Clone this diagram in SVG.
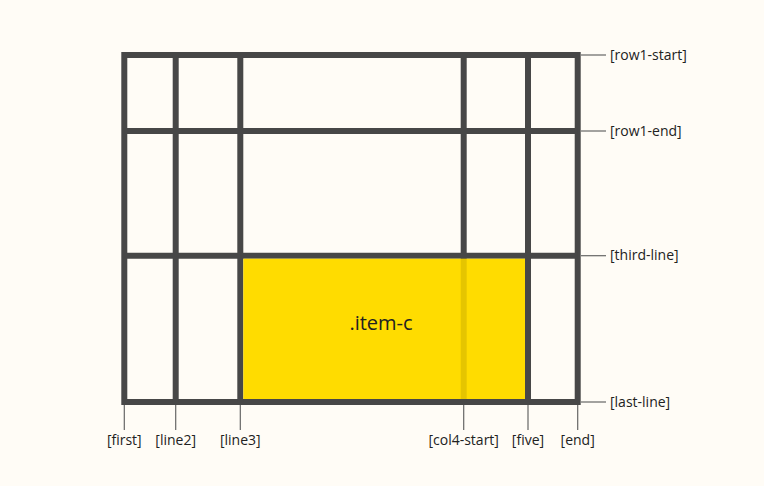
<svg xmlns="http://www.w3.org/2000/svg" width="764" height="486" viewBox="0 0 764 486">
<style>
.grid{stroke:#474747;stroke-width:6;fill:none}
.tick{stroke:#666;stroke-width:1.2}
.lbl{font-family:"Open Sans","Noto Sans",sans-serif;font-size:14px;fill:#222}
.rlbl{dominant-baseline:central}
.blbl{text-anchor:middle}
.item{font-family:"Open Sans","Noto Sans",sans-serif;font-size:20px;fill:#222;text-anchor:middle}
</style>
<rect width="764" height="486" fill="#fffcf6"/>
<g id="grid">
<rect class="grid" x="124.3" y="55" width="453.4" height="347"/>
<line class="grid" x1="175.7" y1="55" x2="175.7" y2="402"/>
<line class="grid" x1="240.3" y1="55" x2="240.3" y2="402"/>
<line class="grid" x1="463.7" y1="55" x2="463.7" y2="402"/>
<line class="grid" x1="528" y1="55" x2="528" y2="402"/>
<line class="grid" x1="124.3" y1="131" x2="577.7" y2="131"/>
<line class="grid" x1="124.3" y1="255.7" x2="577.7" y2="255.7"/>
</g>
<g id="item-c">
<rect x="243.3" y="258.7" width="281.7" height="140.3" fill="#ffdc00"/>
<rect x="460.7" y="258.7" width="6" height="140.3" fill="#000" fill-opacity="0.1"/>
<text class="item" x="381" y="330">.item-c</text>
</g>
<g id="connectors">
<line class="tick" x1="581" y1="55" x2="606" y2="55"/>
<line class="tick" x1="581" y1="131" x2="606" y2="131"/>
<line class="tick" x1="581" y1="255.7" x2="606" y2="255.7"/>
<line class="tick" x1="581" y1="402" x2="606" y2="402"/>
<line class="tick" x1="124.3" y1="405" x2="124.3" y2="430"/>
<line class="tick" x1="175.7" y1="405" x2="175.7" y2="430"/>
<line class="tick" x1="240.3" y1="405" x2="240.3" y2="430"/>
<line class="tick" x1="463.7" y1="405" x2="463.7" y2="430"/>
<line class="tick" x1="528" y1="405" x2="528" y2="430"/>
<line class="tick" x1="577.7" y1="405" x2="577.7" y2="430"/>
</g>
<g id="row-labels">
<text class="lbl rlbl" x="610" y="54">[row1-start]</text>
<text class="lbl rlbl" x="610" y="130">[row1-end]</text>
<text class="lbl rlbl" x="610" y="254.7">[third-line]</text>
<text class="lbl rlbl" x="610" y="401">[last-line]</text>
</g>
<g id="col-labels">
<text class="lbl blbl" x="124.3" y="445">[first]</text>
<text class="lbl blbl" x="175.7" y="445">[line2]</text>
<text class="lbl blbl" x="240.3" y="445">[line3]</text>
<text class="lbl blbl" x="463.7" y="445">[col4-start]</text>
<text class="lbl blbl" x="528" y="445">[five]</text>
<text class="lbl blbl" x="577.7" y="445">[end]</text>
</g>
</svg>
